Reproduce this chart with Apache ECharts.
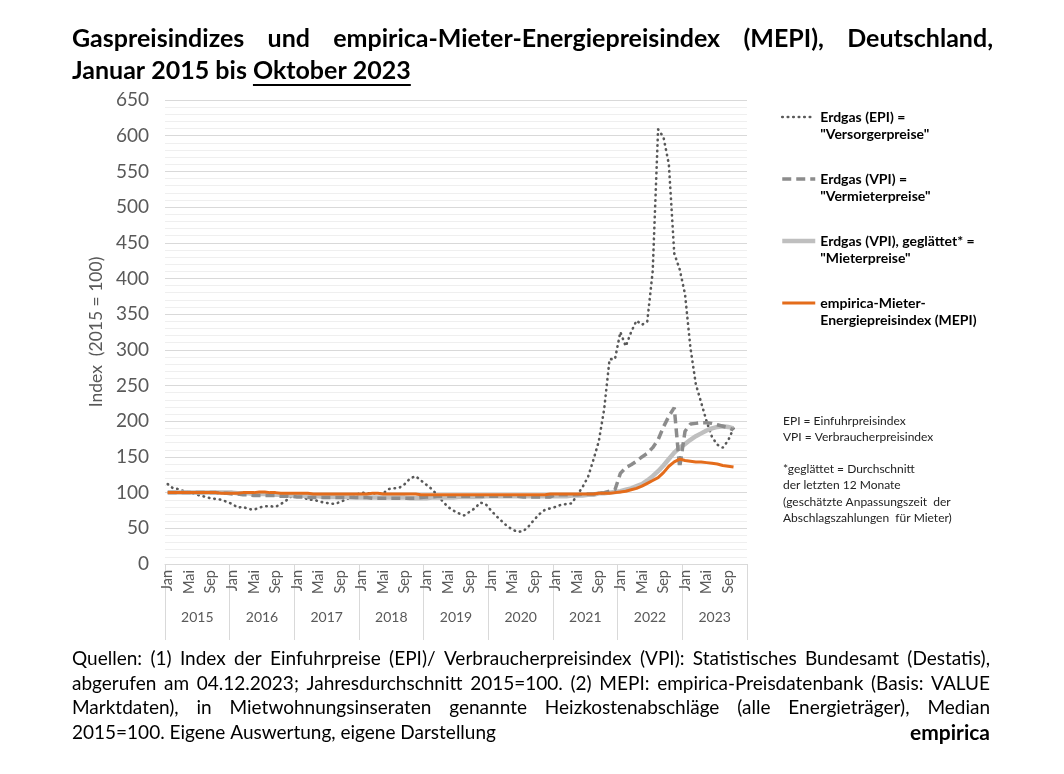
<!DOCTYPE html>
<html><head><meta charset="utf-8">
<script src="https://cdn.jsdelivr.net/npm/echarts@6/dist/echarts.min.js"></script>
<style>html,body{margin:0;padding:0;background:#fff}#c{width:1064px;height:774px}</style>
</head><body><div id="c"></div>
<script>
// ---------- data ----------
const years = ['2015','2016','2017','2018','2019','2020','2021','2022','2023'];
const monthNames = ['Jan','Feb','Mär','Apr','Mai','Jun','Jul','Aug','Sep','Okt','Nov','Dez'];
const shownMonths = ['Jan','Mai','Sep'];

// Erdgas (EPI) = "Versorgerpreise"
const epi = [
  112,106,105,102,100,98,96,94,92,91,90,87,
  84,79,80,77,76,79,81,81,80,84,89,95,
  97,95,90,90,88,86,85,84,87,90,94,97,
  100,99,99,99,99,105,106,107,112,120,123,117,
  111,105,97,88,80,75,71,68,73,78,86,84,
  75,67,60,53,48,45,46,53,62,70,76,78,
  80,83,84,85,97,108,122,146,172,217,287,287,
  325,305,325,341,335,340,410,609,598,560,435,413,
  378,303,252,226,200,178,167,163,173,190
];
// Erdgas (VPI) = "Vermieterpreise"
const vpi = [
  100,100,100,100,100,100,100,100,100,100,99,99,
  98,98,97,97,96,96,96,96,96,95,95,95,
  94,94,93,93,93,93,93,93,93,93,93,93,
  93,93,92,92,92,92,92,92,92,92,92,93,
  94,94,95,95,95,95,95,95,95,95,95,95,
  95,95,95,95,95,95,94,94,94,94,94,94,
  97,97,97,97,97,98,98,98,99,100,102,104,
  127,135,139,144,150,155,163,174,192,207,219,135,
  186,196,197,198,198,197,195,193,191,188
];
// Erdgas (VPI), geglättet* = "Mieterpreise"
const vpiSmooth = [
  100,100,100,100,100,100,100,100,100,100,100,100,
  100,99,99,99,98,98,98,97,97,97,97,96,
  96,96,95,95,95,94,94,94,94,94,94,93,
  93,93,93,93,93,93,93,93,93,92,92,92,
  92,93,93,93,93,93,94,94,94,94,94,95,
  95,95,95,95,95,95,95,95,95,95,95,95,
  95,95,95,96,96,96,97,97,99,99,100,101,
  102,104,106,109,112,117,123,130,138,147,156,163,
  168,174,179,183,187,190,192,193,192,190
];
// empirica-Mieter-Energiepreisindex (MEPI)
const mepi = [
  100,100,100,100,100,100,100,100,100,100,99,99,
  99,99,100,100,100,101,101,100,100,99,99,99,
  99,99,99,98,98,98,98,98,98,98,98,98,
  98,98,99,99,98,98,98,98,98,98,98,97,
  97,97,97,97,97,97,97,97,97,97,97,97,
  97,97,97,97,97,97,97,97,97,97,97,98,
  98,98,98,98,98,98,98,98,99,99,99,100,
  101,102,104,106,109,113,117,121,128,137,143,147,
  145,144,143,143,142,141,140,138,137,136
];

const seriesNames = ['EPI','VPI','VPIg','MEPI'];
const legendLabels = {
  'EPI': ['Erdgas (EPI) =', '"Versorgerpreise"'],
  'VPI': ['Erdgas (VPI) =', '"Vermieterpreise"'],
  'VPIg': ['Erdgas (VPI), geglättet* =', '"Mieterpreise"'],
  'MEPI': ['empirica-Mieter-', 'Energiepreisindex (MEPI)']
};
const titleLine1 = 'Gaspreisindizes und empirica-Mieter-Energiepreisindex (MEPI), Deutschland,';
const titleLine2a = 'Januar 2015 bis ';
const titleLine2b = 'Oktober 2023';
const notes = [
  ['EPI = Einfuhrpreisindex', 'VPI = Verbraucherpreisindex'],
  ['*geglättet = Durchschnitt', 'der letzten 12 Monate', '(geschätzte Anpassungszeit  der', 'Abschlagszahlungen  für Mieter)']
];
const footerJustified = [
  'Quellen: (1) Index der Einfuhrpreise (EPI)/ Verbraucherpreisindex (VPI): Statistisches Bundesamt (Destatis),',
  'abgerufen am 04.12.2023; Jahresdurchschnitt 2015=100. (2) MEPI: empirica-Preisdatenbank (Basis: VALUE',
  'Marktdaten), in Mietwohnungsinseraten genannte Heizkostenabschläge (alle Energieträger), Median'
];
const footerLast = '2015=100. Eigene Auswertung, eigene Darstellung';
const brand = 'empirica';

// ---------- layout helpers ----------
const FONT = 'Lato, "Noto Sans", sans-serif';
const categories = [];
years.forEach(y => monthNames.forEach(m => categories.push(m + ' ' + y)));

const mctx = document.createElement('canvas').getContext('2d');
function measure(text, size, weight) {
  mctx.font = (weight || 'normal') + ' ' + size + 'px ' + FONT;
  return mctx.measureText(text).width;
}
function txt(text, x, y, size, weight, color, align) {
  return { type: 'text', x: x, y: y, silent: true,
    style: { text: text, fontFamily: FONT, fontSize: size, fontWeight: weight || 'normal',
      fill: color || '#000', align: align || 'left', verticalAlign: 'middle' } };
}
function justify(text, x0, x1, y, size, weight, color) {
  const words = text.split(' ');
  const widths = words.map(w => measure(w, size, weight));
  const total = widths.reduce((a, b) => a + b, 0);
  const gap = (x1 - x0 - total) / (words.length - 1);
  let x = x0;
  return words.map((w, i) => { const el = txt(w, x, y, size, weight, color); x += widths[i] + gap; return el; });
}

const TS = 25;
const graphics = [];
graphics.push(...justify(titleLine1, 72, 993, 39, TS, 'bold', '#000'));
graphics.push(txt(titleLine2a + titleLine2b, 72, 71, TS, 'bold', '#000'));
const ulx0 = 72 + measure(titleLine2a, TS, 'bold');
const ulx1 = 72 + measure(titleLine2a + titleLine2b, TS, 'bold');
graphics.push({ type: 'line', silent: true, shape: { x1: ulx0, y1: 85, x2: ulx1, y2: 85 }, style: { stroke: '#000', lineWidth: 2 } });
let ny = 421;
notes.forEach(block => {
  block.forEach(line => { graphics.push(txt(line, 783, ny, 12, 'normal', '#222')); ny += 16.5; });
  ny += 15;
});
const FS = 19;
footerJustified.forEach((line, i) => graphics.push(...justify(line, 72, 990, 659 + i * 24.6, FS, 'normal', '#000')));
graphics.push(txt(footerLast, 72, 733, FS, 'normal', '#000'));
graphics.push(txt(brand, 990, 733, 21, 'bold', '#000', 'right'));

const colors = { EPI: '#595959', VPI: '#8c8c8c', VPIg: '#bfbfbf', MEPI: '#e46c1b' };
const widths = { EPI: 2.6, VPI: 3.5, VPIg: 4.5, MEPI: 3 };

const chart = echarts.init(document.getElementById('c'), null, { renderer: 'canvas' });
chart.setOption({
  backgroundColor: '#fff',
  animation: false,
  grid: { left: 165, right: 317, top: 100, bottom: 210 },
  legend: {
    orient: 'vertical', left: 780, top: 93, padding: 0,
    itemWidth: 33, itemHeight: 14, itemGap: 14,
    data: seriesNames.map(n => ({ name: n, lineStyle: { width: widths[n] } })),
    itemStyle: { opacity: 0 },
    formatter: n => '{s| }\n{t|' + legendLabels[n][0] + '}\n{t|' + legendLabels[n][1] + '}',
    textStyle: { fontFamily: FONT, fontSize: 14, fontWeight: 'bold', color: '#000',
      rich: { s: { fontSize: 14, lineHeight: 17 }, t: { fontFamily: FONT, fontSize: 14, fontWeight: 'bold', color: '#000', lineHeight: 17 } } }
  },
  xAxis: [
    { type: 'category', data: categories, boundaryGap: true, gridIndex: 0,
      axisLine: { show: true, lineStyle: { color: '#d9d9d9', width: 1 } },
      axisTick: { show: false },
      axisLabel: { interval: 0, rotate: 90, margin: 6, fontFamily: FONT, fontSize: 14.5, color: '#595959',
        formatter: v => { const m = v.split(' ')[0]; return shownMonths.indexOf(m) >= 0 ? m : ''; } },
      splitLine: { show: false } },
    { type: 'category', data: years, boundaryGap: true, gridIndex: 0, position: 'bottom',
      axisLine: { show: false },
      axisTick: { show: true, length: 76, lineStyle: { color: '#d9d9d9', width: 1 } },
      axisLabel: { margin: 46, fontFamily: FONT, fontSize: 14, color: '#595959' },
      splitLine: { show: false } }
  ],
  yAxis: {
    type: 'value', min: 0, max: 650, interval: 50,
    name: 'Index  (2015 = 100)', nameLocation: 'middle', nameGap: 52, nameRotate: 90,
    nameTextStyle: { fontFamily: FONT, fontSize: 17.5, color: '#595959' },
    axisLine: { show: false }, axisTick: { show: false },
    axisLabel: { margin: 16, fontFamily: FONT, fontSize: 19, color: '#595959' },
    splitLine: { show: true, lineStyle: { color: '#d9d9d9', width: 1 } },
    minorTick: { show: false, splitNumber: 5 },
    minorSplitLine: { show: true, lineStyle: { color: '#efefef', width: 1 } }
  },
  series: [
    { name: 'EPI', type: 'line', data: epi, symbol: 'none', z: 2, itemStyle: { color: colors.EPI },
      lineStyle: { color: colors.EPI, width: widths.EPI, type: [0.5, 5], cap: 'round' } },
    { name: 'VPIg', type: 'line', data: vpiSmooth, symbol: 'none', z: 3, itemStyle: { color: colors.VPIg },
      lineStyle: { color: colors.VPIg, width: widths.VPIg } },
    { name: 'VPI', type: 'line', data: vpi, symbol: 'none', z: 4, itemStyle: { color: colors.VPI },
      lineStyle: { color: colors.VPI, width: widths.VPI, type: [9, 5] } },
    { name: 'MEPI', type: 'line', data: mepi, symbol: 'none', z: 5, itemStyle: { color: colors.MEPI },
      lineStyle: { color: colors.MEPI, width: widths.MEPI } }
  ],
  graphic: graphics
});
</script></body></html>
